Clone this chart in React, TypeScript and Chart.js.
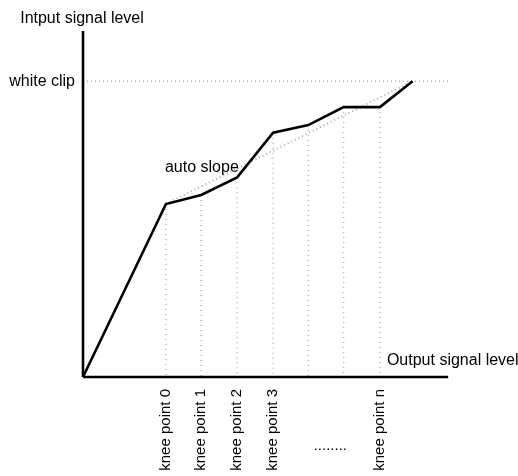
import React, { useEffect, useRef } from "react";
import { Chart, registerables } from "chart.js";

Chart.register(...registerables);

// Output signal level (x) and input signal level (y) of the knee curve, in % of axis range
const outputLevel = [0, 22.6, 32.2, 42.0, 51.8, 61.4, 71.0, 80.9, 89.8];
const inputLevel = [0, 50.0, 52.6, 57.7, 70.6, 72.8, 78.0, 78.0, 85.5];
// labels for knee points (indices 1..7 of the curve)
const kneeLabels = ["knee point 0", "knee point 1", "knee point 2", "knee point 3", "", "", "knee point n"];
const ellipsisLabel = "........";
const ellipsisAt = 67.4;
const whiteClipLevel = 85.5;
const axisMaxX = 99.5;
const axisMaxY = 100;

const FONT = '"Liberation Sans", Arial, Helvetica, sans-serif';

export default function App() {
  const ref = useRef<HTMLCanvasElement | null>(null);

  useEffect(() => {
    const canvas = ref.current;
    if (!canvas) return;

    const curve = outputLevel.map((x, i) => ({ x, y: inputLevel[i] }));
    const last = curve.length - 1;
    const autoSlope = [curve[1], curve[last]];
    const whiteClip = [
      { x: 0, y: whiteClipLevel },
      { x: 100, y: whiteClipLevel },
    ];
    const verticals: any[] = [];
    for (let i = 1; i <= 7; i++) {
      verticals.push({ x: outputLevel[i], y: inputLevel[i] });
      verticals.push({ x: outputLevel[i], y: 0 });
      verticals.push({ x: outputLevel[i], y: null });
    }
    const yAxis = [
      { x: 0, y: 0 },
      { x: 0, y: axisMaxY },
    ];
    const xAxis = [
      { x: 0, y: 0 },
      { x: axisMaxX, y: 0 },
    ];

    const textPlugin = {
      id: "texts",
      afterDraw(chart: any) {
        const ctx = chart.ctx;
        const xs = chart.scales.x;
        const ys = chart.scales.y;
        const area = chart.chartArea;
        ctx.save();
        ctx.fillStyle = "#000";
        ctx.font = `16px ${FONT}`;
        ctx.textBaseline = "alphabetic";
        ctx.textAlign = "center";
        ctx.fillText("Intput signal level", area.left - 1, area.top - 8);
        ctx.textAlign = "right";
        ctx.textBaseline = "middle";
        ctx.fillText("white clip", area.left - 8, ys.getPixelForValue(whiteClipLevel));
        ctx.textAlign = "left";
        ctx.textBaseline = "alphabetic";
        ctx.fillText("auto slope", xs.getPixelForValue(outputLevel[1]) - 1, ys.getPixelForValue(inputLevel[3]) - 5);
        ctx.fillText("Output signal level", xs.getPixelForValue(outputLevel[7]) + 7, area.bottom - 12);

        ctx.font = `15px ${FONT}`;
        kneeLabels.forEach((lab, i) => {
          if (!lab) return;
          const px = xs.getPixelForValue(outputLevel[i + 1]);
          ctx.save();
          ctx.translate(px, area.bottom + 12);
          ctx.rotate(-Math.PI / 2);
          ctx.textAlign = "right";
          ctx.textBaseline = "middle";
          ctx.fillText(lab, 0, 0);
          ctx.restore();
        });
        ctx.textAlign = "center";
        ctx.textBaseline = "alphabetic";
        ctx.fillText(ellipsisLabel, xs.getPixelForValue(ellipsisAt), area.bottom + 73);
        ctx.restore();
      },
    };

    const chart = new Chart(canvas, {
      type: "line",
      data: {
        datasets: [
          { data: curve, borderColor: "#000", borderWidth: 2.6, pointRadius: 0, tension: 0, clip: false },
          { data: yAxis, borderColor: "#000", borderWidth: 2.6, pointRadius: 0, clip: false },
          { data: xAxis, borderColor: "#000", borderWidth: 2.6, pointRadius: 0, clip: false },
          { data: autoSlope, borderColor: "#aaaaaa", borderWidth: 2, borderDash: [1, 3], pointRadius: 0, clip: false },
          { data: whiteClip, borderColor: "#aaaaaa", borderWidth: 1.5, borderDash: [1, 3], pointRadius: 0, clip: false },
          { data: verticals, borderColor: "#b4b4b4", borderWidth: 1.5, borderDash: [1, 4], pointRadius: 0, spanGaps: false, clip: false },
        ] as any,
      },
      options: {
        animation: false,
        responsive: false,
        devicePixelRatio: 1,
        layout: { padding: { left: 83, right: 68, top: 31, bottom: 99 } },
        plugins: { legend: { display: false }, tooltip: { enabled: false } },
        scales: {
          x: { type: "linear", min: 0, max: 100, display: false },
          y: { type: "linear", min: 0, max: 100, display: false },
        },
      } as any,
      plugins: [textPlugin],
    });
    return () => chart.destroy();
  }, []);

  return (
    <div style={{ position: "absolute", left: 0, top: 0, width: 518, height: 476, background: "#fff" }}>
      <canvas ref={ref} width={518} height={476} style={{ display: "block" }} />
    </div>
  );
}
